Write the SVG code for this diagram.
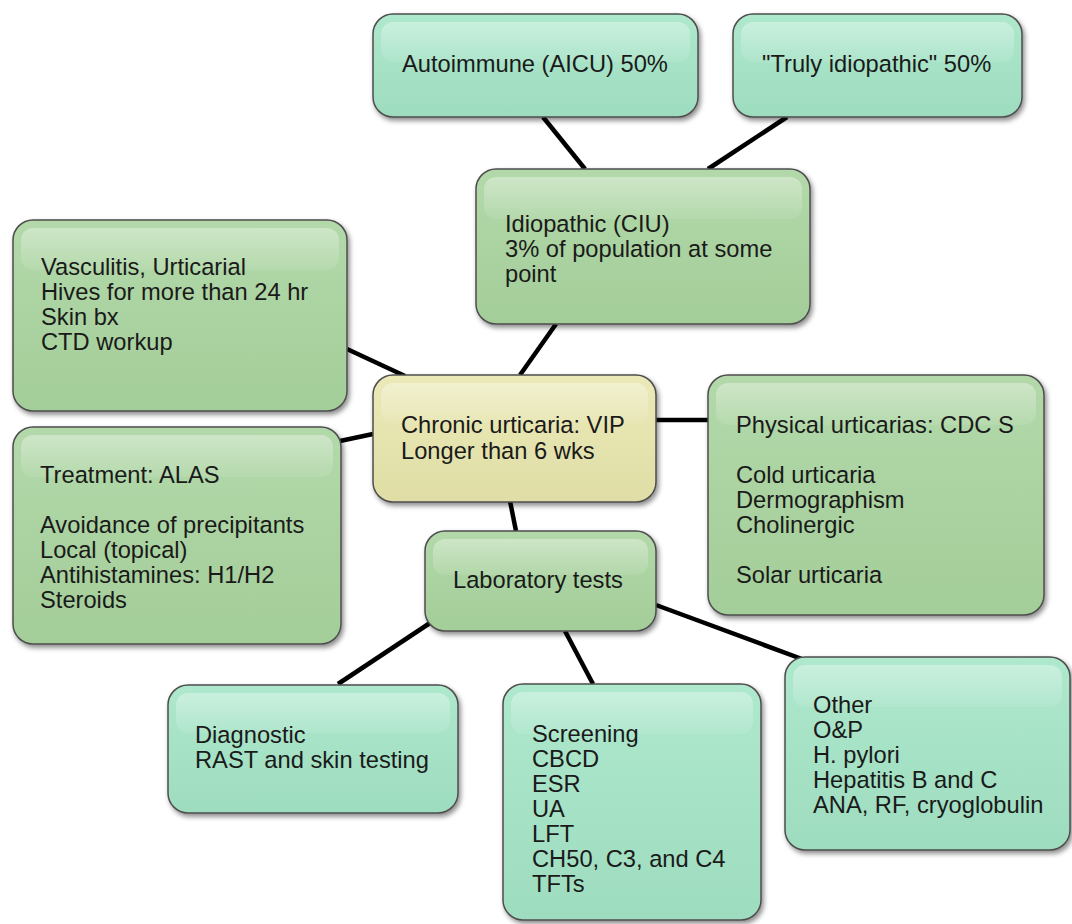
<svg xmlns="http://www.w3.org/2000/svg" width="1072" height="924" viewBox="0 0 1072 924">
<defs>
<linearGradient id="gTeal" x1="0" y1="0" x2="0" y2="1"><stop offset="0" stop-color="#aee8cd"/><stop offset="1" stop-color="#9edcbf"/></linearGradient>
<linearGradient id="gSage" x1="0" y1="0" x2="0" y2="1"><stop offset="0" stop-color="#b3d9aa"/><stop offset="1" stop-color="#a3cd99"/></linearGradient>
<linearGradient id="gYel" x1="0" y1="0" x2="0" y2="1"><stop offset="0" stop-color="#ebe9b7"/><stop offset="1" stop-color="#e0dea6"/></linearGradient>
<linearGradient id="gHi" x1="0" y1="0" x2="0" y2="1"><stop offset="0" stop-color="#ffffff" stop-opacity="0.35"/><stop offset="1" stop-color="#ffffff" stop-opacity="0.08"/></linearGradient>
<filter id="sh" x="-10%" y="-10%" width="125%" height="130%"><feDropShadow dx="2" dy="3" stdDeviation="2.5" flood-color="#000" flood-opacity="0.45"/></filter>
</defs>
<style>
.box{stroke:#4d4d4d;stroke-width:1.5;filter:url(#sh)}
.teal{fill:url(#gTeal)}
.sage{fill:url(#gSage)}
.yel{fill:url(#gYel)}
.hi{fill:url(#gHi)}
text{font-family:"Liberation Sans",Arial,sans-serif;font-size:23.7px;fill:#1a1a1a}
.edge{stroke:#000;stroke-width:4.5;fill:none}
</style>
<g id="connectors">
<line class="edge" x1="543" y1="117" x2="585" y2="169"/>
<line class="edge" x1="787" y1="117" x2="708" y2="169"/>
<line class="edge" x1="556" y1="324" x2="520" y2="375"/>
<line class="edge" x1="347" y1="349" x2="405" y2="376"/>
<line class="edge" x1="340" y1="441" x2="373" y2="434"/>
<line class="edge" x1="656" y1="420" x2="708" y2="420"/>
<line class="edge" x1="510" y1="501" x2="516" y2="531"/>
<line class="edge" x1="430" y1="623" x2="338" y2="684"/>
<line class="edge" x1="565" y1="631" x2="593" y2="684"/>
<line class="edge" x1="656" y1="605" x2="810" y2="662"/>
</g>
<g id="n-autoimmune">
<rect class="box teal" x="373" y="14" width="325" height="103" rx="20"/>
<rect class="hi" x="381" y="22" width="309" height="40" rx="12"/>
<text x="402" y="72">Autoimmune (AICU) 50%</text>
</g>
<g id="n-truly">
<rect class="box teal" x="733" y="14" width="289" height="103" rx="20"/>
<rect class="hi" x="741" y="22" width="273" height="40" rx="12"/>
<text x="762" y="72">"Truly idiopathic" 50%</text>
</g>
<g id="n-idiopathic">
<rect class="box sage" x="476" y="169" width="334" height="155" rx="20"/>
<rect class="hi" x="484" y="177" width="318" height="42" rx="12"/>
<text x="505" y="232">Idiopathic (CIU)</text>
<text x="505" y="257">3% of population at some</text>
<text x="505" y="282">point</text>
</g>
<g id="n-vasculitis">
<rect class="box sage" x="13" y="220" width="334" height="191" rx="20"/>
<rect class="hi" x="21" y="228" width="318" height="42" rx="12"/>
<text x="41" y="275">Vasculitis, Urticarial</text>
<text x="41" y="300">Hives for more than 24 hr</text>
<text x="41" y="325">Skin bx</text>
<text x="41" y="350">CTD workup</text>
</g>
<g id="n-treatment">
<rect class="box sage" x="13" y="427" width="328" height="217" rx="20"/>
<rect class="hi" x="21" y="435" width="312" height="42" rx="12"/>
<text x="40" y="483">Treatment: ALAS</text>
<text x="40" y="533">Avoidance of precipitants</text>
<text x="40" y="558">Local (topical)</text>
<text x="40" y="583">Antihistamines: H1/H2</text>
<text x="40" y="608">Steroids</text>
</g>
<g id="n-chronic">
<rect class="box yel" x="373" y="375" width="283" height="127" rx="20"/>
<rect class="hi" x="381" y="383" width="267" height="40" rx="12"/>
<text x="401" y="433">Chronic urticaria: VIP</text>
<text x="401" y="459">Longer than 6 wks</text>
</g>
<g id="n-physical">
<rect class="box sage" x="708" y="375" width="336" height="240" rx="20"/>
<rect class="hi" x="716" y="383" width="320" height="42" rx="12"/>
<text x="736" y="433">Physical urticarias: CDC S</text>
<text x="736" y="483">Cold urticaria</text>
<text x="736" y="508">Dermographism</text>
<text x="736" y="533">Cholinergic</text>
<text x="736" y="583">Solar urticaria</text>
</g>
<g id="n-lab">
<rect class="box sage" x="425" y="531" width="231" height="100" rx="20"/>
<rect class="hi" x="433" y="539" width="215" height="36" rx="12"/>
<text x="453" y="588">Laboratory tests</text>
</g>
<g id="n-diagnostic">
<rect class="box teal" x="168" y="685" width="290" height="128" rx="20"/>
<rect class="hi" x="176" y="693" width="274" height="40" rx="12"/>
<text x="195" y="743">Diagnostic</text>
<text x="195" y="768">RAST and skin testing</text>
</g>
<g id="n-screening">
<rect class="box teal" x="503" y="684" width="258" height="236" rx="20"/>
<rect class="hi" x="511" y="692" width="242" height="42" rx="12"/>
<text x="532" y="742">Screening</text>
<text x="532" y="767">CBCD</text>
<text x="532" y="792">ESR</text>
<text x="532" y="817">UA</text>
<text x="532" y="842">LFT</text>
<text x="532" y="867">CH50, C3, and C4</text>
<text x="532" y="892">TFTs</text>
</g>
<g id="n-other">
<rect class="box teal" x="785" y="657" width="285" height="193" rx="20"/>
<rect class="hi" x="793" y="665" width="269" height="42" rx="12"/>
<text x="813" y="713">Other</text>
<text x="813" y="738">O&amp;P</text>
<text x="813" y="763">H. pylori</text>
<text x="813" y="788">Hepatitis B and C</text>
<text x="813" y="813">ANA, RF, cryoglobulin</text>
</g>
</svg>
